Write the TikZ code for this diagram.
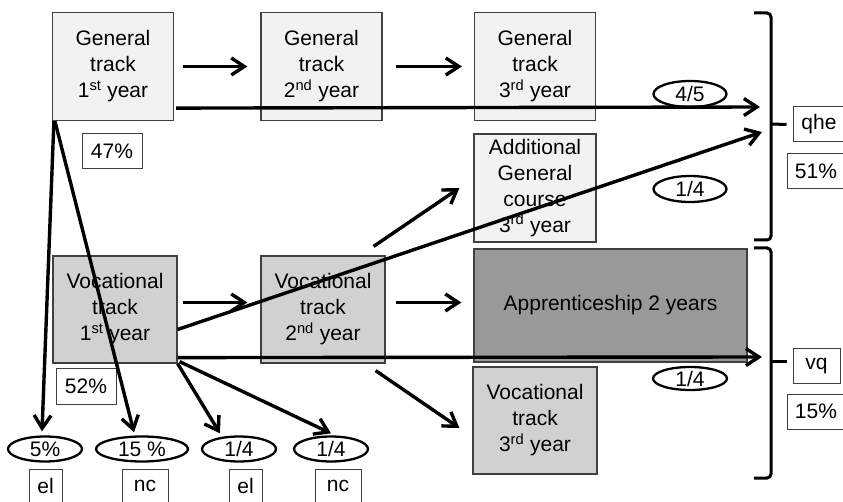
\documentclass[tikz,border=0pt]{standalone}
\usepackage{fontspec}
\setmainfont{Liberation Sans}
\usepackage{tikz}
\usetikzlibrary{positioning,shapes.geometric,arrows.meta}
\definecolor{genfill}{gray}{0.95}
\definecolor{vocfill}{gray}{0.82}
\definecolor{appfill}{gray}{0.6}
\definecolor{boxline}{gray}{0.25}

\begin{document}
\begin{tikzpicture}[x=1pt,y=-1pt,
  every node/.style={font=\fontsize{21}{26}\selectfont,inner sep=0pt,align=center},
  genbox/.style={draw=boxline,line width=1.2pt,fill=genfill,minimum width=121pt,minimum height=108pt},
  vocbox/.style={genbox,fill=vocfill,minimum width=124pt,minimum height=107pt},
  tag/.style={draw=boxline,line width=1pt,fill=white,minimum height=35pt},
  share/.style={ellipse,draw,line width=2.3pt,fill=white,minimum width=74pt,minimum height=25pt},
  flow/.style={-{Straight Barb[length=13pt,width=17pt]},line width=3.4pt},
  brace/.style={line width=3pt,rounded corners=4pt}]
\useasboundingbox (0,0) rectangle (843,502);
% general track
\node[genbox] (gen1) at (113,66.5) {General\\track\\1\textsuperscript{st} year};
\node[genbox] (gen2) at (321.5,66.5) {General\\track\\2\textsuperscript{nd} year};
\node[genbox] (gen3) at (535,66.5) {General\\track\\3\textsuperscript{rd} year};
\node[genbox,minimum width=122pt] (addgen) at (535,188) {Additional\\General\\course\\3\textsuperscript{rd} year};
% vocational track
\node[vocbox] (voc1) at (115,309.5) {Vocational\\track\\1\textsuperscript{st} year};
\node[vocbox] (voc2) at (323,309.5) {Vocational\\track\\2\textsuperscript{nd} year};
\node[vocbox] (voc3) at (535,420.5) {Vocational\\track\\3\textsuperscript{rd} year};
\node[genbox,fill=appfill,minimum width=273pt,minimum height=113pt] (appr) at (610.5,305.5) {Apprenticeship 2 years};
% shares
\node[tag,minimum width=60pt] (p47) at (112,151.5) {47\%};
\node[tag,minimum width=60pt] (p52) at (86,386.5) {52\%};
\node[tag,minimum width=52pt] (qhe) at (819,124.5) {qhe};
\node[tag,minimum width=58pt] (p51) at (816,171.5) {51\%};
\node[tag,minimum width=47pt,minimum height=34pt] (vq) at (816.5,366) {vq};
\node[tag,minimum width=58pt] (p15) at (816,411.5) {15\%};
\node[share,minimum width=73pt,minimum height=26pt] (r45) at (690,94) {4/5};
\node[share,minimum width=73pt,minimum height=26pt] (r14a) at (690,189) {1/4};
\node[share,minimum height=23pt] (r14b) at (690,378.5) {1/4};
% dropouts
\node[share] (s5) at (45,449) {5\%};
\node[share,minimum width=92pt] (s15) at (142,449) {15 \%};
\node[share] (s14a) at (239,449) {1/4};
\node[share] (s14b) at (331,449) {1/4};
\node[tag,minimum width=33pt,minimum height=34pt] (el1) at (45.5,486) {el};
\node[tag,minimum width=46pt,minimum height=34pt] (nc1) at (145,486) {nc};
\node[tag,minimum width=33pt,minimum height=34pt] (el2) at (245.5,486) {el};
\node[tag,minimum width=46pt,minimum height=34pt] (nc2) at (338,486) {nc};
\coordinate (qheA) at (760,107);
\coordinate (qheB) at (762,132);
\coordinate (vqA) at (762,357);
% flows
\draw[flow] ([xshift=9pt]gen1.east) -- ([xshift=-13pt]gen2.west);
\draw[flow] ([xshift=13pt]gen2.east) -- ([xshift=-12pt]gen3.west);
\draw[flow] ([xshift=2pt,yshift=13pt]gen1.south east) -- (qheA);
\draw[flow] ([yshift=-20pt]voc1.east) -- (qheB);
\draw[flow] ([xshift=5pt,yshift=7pt]voc1.east) -- ([xshift=-13pt,yshift=7pt]voc2.west);
\draw[flow] ([xshift=10pt,yshift=7pt]voc2.east) -- ([xshift=-12pt,yshift=3pt]appr.west);
\draw[flow] ([xshift=-12pt,yshift=9pt]voc2.north east) -- ([xshift=-14pt]addgen.west);
\draw[flow] ([xshift=-10pt,yshift=-7pt]voc2.south east) -- ([xshift=-13pt,yshift=-7.5pt]voc3.west);
\draw[flow] ([yshift=6pt]voc1.south east) -- (vqA);
\draw[flow] ([xshift=2pt]gen1.south west) -- ([xshift=-3pt,yshift=4pt]s5.north);
\draw[flow] ([xshift=3pt]gen1.south west) -- ([xshift=-8pt,yshift=3pt]s15.north);
\draw[flow] (voc1.south east) -- ([xshift=-19pt,yshift=2pt]s14a.north);
\draw[flow] ([xshift=2pt,yshift=2pt]voc1.south east) -- ([yshift=2pt]s14b.north);
% braces
\draw[brace] (754,13) -- (771,13) -- (771,240) -- (754,240);
\draw[brace] (771,124) -- ([xshift=-6pt]qhe.west);
\draw[brace] (754,248) -- (771,248) -- (771,478) -- (754,478);
\draw[brace] (771,362) -- ([xshift=-6pt,yshift=4pt]vq.west);
\end{tikzpicture}
\end{document}
